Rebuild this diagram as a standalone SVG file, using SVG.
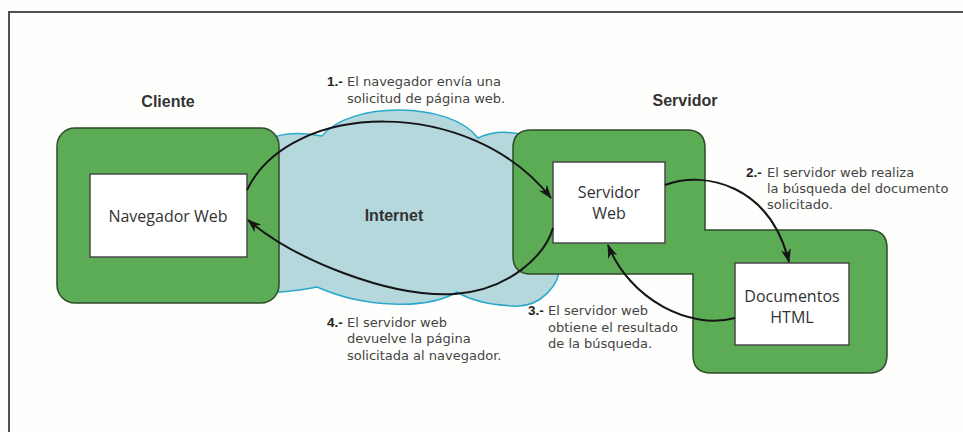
<svg xmlns="http://www.w3.org/2000/svg" width="963" height="432" viewBox="0 0 963 432">
  <style>
    .zone { fill: #5cab55; stroke: #2f4a2c; stroke-width: 1.5; }
    .box { fill: #ffffff; stroke: #4a4a4a; stroke-width: 1.5; }
    .boxtxt { font-family: "Open Sans", "Liberation Sans", sans-serif; font-size: 16px; fill: #333333; text-anchor: middle; }
    .head { font-family: "Liberation Sans", Arial, sans-serif; font-size: 16px; font-weight: bold; fill: #333333; text-anchor: middle; }
    .note { font-family: "DejaVu Sans", "Liberation Sans", sans-serif; font-size: 13px; fill: #444444; }
    .num { font-family: "Liberation Sans", Arial, sans-serif; font-size: 13.5px; font-weight: bold; fill: #222222; }
    .conn { fill: none; stroke: #151515; stroke-width: 2; }
  </style>
  <defs>
    <marker id="arrow" viewBox="0 0 14 10" refX="13" refY="5" markerWidth="14" markerHeight="10" markerUnits="userSpaceOnUse" orient="auto">
      <path d="M0,0 L14,5 L0,10 L4,5 Z" fill="#151515"/>
    </marker>
  </defs>

  <rect x="0" y="0" width="963" height="432" fill="#fefefc"/>
  <path d="M963,12 H9 V432" fill="none" stroke="#4f4f4f" stroke-width="2"/>

  <g id="node-internet">
    <path d="M268,140 C280,133 300,132 322,136 C350,101 450,101 478,138 C490,132 505,131 520,134 L560,140 L560,260 C562,285 540,308 513,306 C490,305 470,300 457,292 C440,302 415,305 393,304 C360,303 335,295 317,287 C300,290 285,293 268,292 Z" fill="#b4d8dc" stroke="#2aa8cb" stroke-width="1.5"/>
    <text class="head" x="394" y="221">Internet</text>
  </g>

  <g id="node-cliente">
    <rect class="zone" x="57" y="128" width="222" height="175" rx="18" ry="18"/>
    <text class="head" x="168" y="107">Cliente</text>
  </g>

  <g id="node-servidor">
    <path class="zone" d="M531,130 H687 Q705,130 705,148 V230 H869 Q887,230 887,248 V355 Q887,373 869,373 H711 Q693,373 693,355 V274 H531 Q513,274 513,256 V148 Q513,130 531,130 Z"/>
    <text class="head" x="685" y="106">Servidor</text>
  </g>

  <g id="node-navegador">
    <rect class="box" x="90" y="174" width="157" height="83"/>
    <text class="boxtxt" x="168" y="222">Navegador Web</text>
  </g>

  <g id="node-servidor-web">
    <rect class="box" x="553" y="162" width="112" height="81"/>
    <text class="boxtxt" x="609" y="198">Servidor</text>
    <text class="boxtxt" x="609" y="219">Web</text>
  </g>

  <g id="node-documentos">
    <rect class="box" x="735" y="263" width="114" height="82"/>
    <text class="boxtxt" x="792" y="302">Documentos</text>
    <text class="boxtxt" x="792" y="323">HTML</text>
  </g>

  <g id="connectors">
    <path class="conn" d="M247,190 C290,100 470,95 551,198" marker-end="url(#arrow)"/>
    <path class="conn" d="M665,185 C705,170 770,185 789,262" marker-end="url(#arrow)"/>
    <path class="conn" d="M735,318 C690,330 630,300 608,245" marker-end="url(#arrow)"/>
    <path class="conn" d="M553,228 C545,255 510,290 455,294 C390,298 295,260 248,220" marker-end="url(#arrow)"/>
  </g>

  <g id="labels">
    <text class="num" x="327" y="86">1.-</text>
    <text class="note" x="347" y="86">El navegador envía una</text>
    <text class="note" x="347" y="102.5">solicitud de página web.</text>

    <text class="num" x="746" y="176.5">2.-</text>
    <text class="note" x="767" y="176.5">El servidor web realiza</text>
    <text class="note" x="767" y="192.5">la búsqueda del documento</text>
    <text class="note" x="767" y="208.5">solicitado.</text>

    <text class="num" x="528" y="315">3.-</text>
    <text class="note" x="548" y="315">El servidor web</text>
    <text class="note" x="548" y="331.5">obtiene el resultado</text>
    <text class="note" x="548" y="348">de la búsqueda.</text>

    <text class="num" x="327" y="326.5">4.-</text>
    <text class="note" x="347" y="326.5">El servidor web</text>
    <text class="note" x="347" y="343">devuelve la página</text>
    <text class="note" x="347" y="359.5">solicitada al navegador.</text>
  </g>
</svg>
